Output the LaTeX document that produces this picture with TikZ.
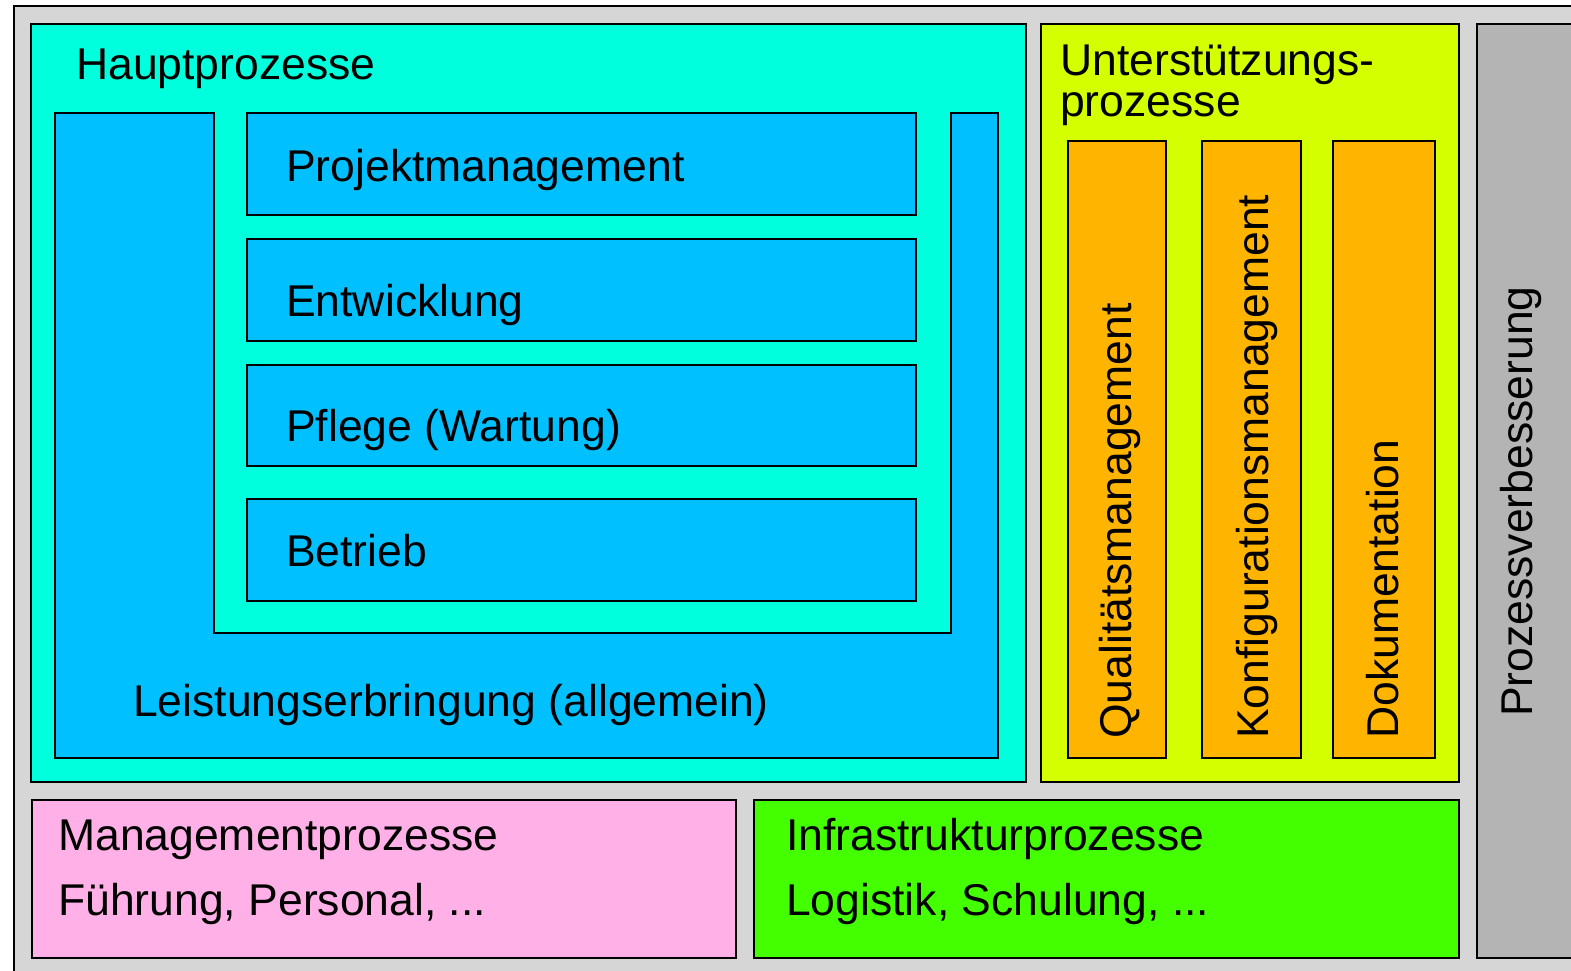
\documentclass[tikz,border=0pt]{standalone}
\usepackage{fontspec}
\setmainfont{Liberation Sans}
\definecolor{bggrey}{HTML}{D6D6D6}
\definecolor{haupt}{HTML}{00FFDD}
\definecolor{leist}{HTML}{00C0FF}
\definecolor{unterst}{HTML}{D4FF00}
\definecolor{orangebox}{HTML}{FFB400}
\definecolor{verb}{HTML}{B4B4B4}
\definecolor{mgmt}{HTML}{FFB0E6}
\definecolor{infra}{HTML}{44FF00}
\tikzset{
  box/.style={draw=black, line width=2.6pt},
  lbl/.style={inner sep=0pt, anchor=base west, font=\fontsize{44.5}{48}\selectfont},
  vlbl/.style={lbl, rotate=90},
}
\begin{document}
\begin{tikzpicture}[x=1pt, y=-1pt]
\useasboundingbox (0,0) rectangle (1571,971);
\clip (0,0) rectangle (1571,971);
\fill[white] (0,0) rectangle (1571,971);
% outer frame
\filldraw[box, fill=bggrey] (14,6) rectangle (1600,1000);
% Hauptprozesse
\filldraw[box, fill=haupt] (31,24) rectangle (1026,782);
\node[lbl] (haupt) at (76,80) {Hauptprozesse};
% Leistungserbringung U-shape
\filldraw[box, fill=leist] (55,113) -- (214,113) -- (214,633) -- (951,633) -- (951,113) -- (998,113) -- (998,758) -- (55,758) -- cycle;
\node[lbl] (leist) at (133,716) {Leistungserbringung (allgemein)};
% inner boxes
\filldraw[box, fill=leist] (247,113) rectangle (916,215);
\node[lbl] (pm) at (286,181) {Projektmanagement};
\filldraw[box, fill=leist] (247,239) rectangle (916,341);
\node[lbl] (entw) at (286,316) {Entwicklung};
\filldraw[box, fill=leist] (247,365) rectangle (916,466);
\node[lbl] (pflege) at (286,441) {Pflege (Wartung)};
\filldraw[box, fill=leist] (247,499) rectangle (916,601);
\node[lbl] (betrieb) at (286,566) {Betrieb};
% Unterstuetzungsprozesse
\filldraw[box, fill=unterst] (1041,24) rectangle (1459,782);
\node[lbl] (unt1) at (1060,76) {Unterstützungs-};
\node[lbl] (unt2) at (1060,117) {prozesse};
\filldraw[box, fill=orangebox] (1068,141) rectangle (1166,758);
\node[vlbl] (qm) at (1131,739) {Qualitätsmanagement};
\filldraw[box, fill=orangebox] (1202,141) rectangle (1301,758);
\node[vlbl] (km) at (1268,739) {Konfigurationsmanagement};
\filldraw[box, fill=orangebox] (1333,141) rectangle (1435,758);
\node[vlbl] (doku) at (1398,739) {Dokumentation};
% Prozessverbesserung
\filldraw[box, fill=verb] (1477,24) rectangle (1600,958);
\node[vlbl] (pv) at (1532,717) {Prozessverbesserung};
% Management
\filldraw[box, fill=mgmt] (32,800) rectangle (736,958);
\node[lbl] (mg1) at (58,850) {Managementprozesse};
\node[lbl] (mg2) at (58,915) {Führung, Personal, ...};
% Infrastruktur
\filldraw[box, fill=infra] (754,800) rectangle (1459,958);
\node[lbl] (in1) at (786,850) {Infrastrukturprozesse};
\node[lbl] (in2) at (786,915) {Logistik, Schulung, ...};
\end{tikzpicture}
\end{document}
